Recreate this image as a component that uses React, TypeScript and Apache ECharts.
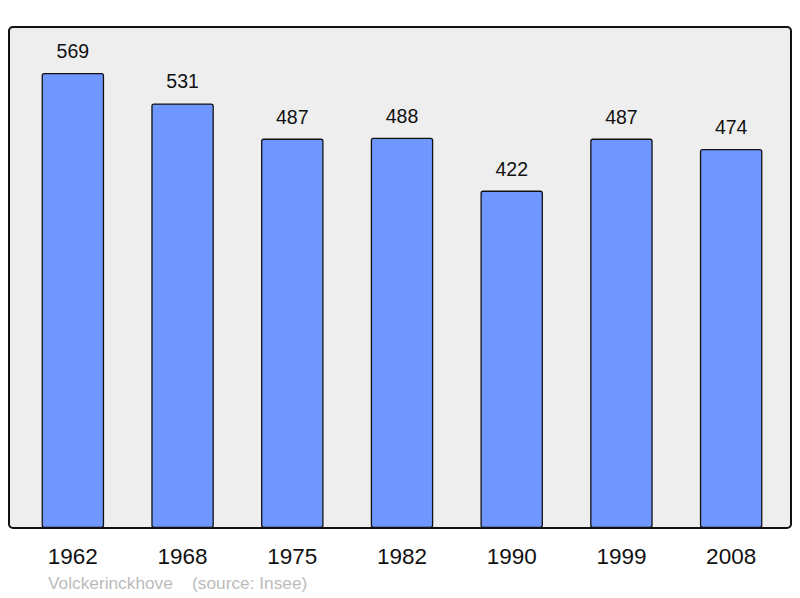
import React, { useEffect, useRef } from "react";
import * as echarts from "echarts";

const categories = ["1962", "1968", "1975", "1982", "1990", "1999", "2008"];
const values = [569, 531, 487, 488, 422, 487, 474];

export default function App() {
  const ref = useRef<HTMLDivElement>(null);
  useEffect(() => {
    const chart = echarts.init(ref.current!, null, { renderer: "svg" });
    chart.setOption({
      animation: false,
      textStyle: { fontFamily: "Liberation Sans, Arial, sans-serif" },
      graphic: [
        {
          type: "rect",
          z: -10,
          shape: { x: 9, y: 27, width: 782, height: 501, r: 4 },
          style: { fill: "#eeeeee", stroke: "#111111", lineWidth: 2 },
        },
        {
          type: "text",
          left: 48,
          top: 574,
          style: {
            text: "Volckerinckhove    (source: Insee)",
            fill: "#bbbbbb",
            font: "17.3px Liberation Sans, Arial, sans-serif",
          },
        },
      ],
      grid: { left: 18, right: 14, top: 27, bottom: 70, containLabel: false },
      xAxis: {
        type: "category",
        data: categories,
        axisLine: { show: false },
        axisTick: { show: false },
        axisLabel: { fontSize: 22.5, color: "#111", margin: 17 },
      },
      yAxis: {
        type: "value",
        min: 0,
        max: 626.6,
        show: false,
        splitLine: { show: false },
      },
      series: [
        {
          type: "bar",
          data: values,
          barWidth: 62.5,
          itemStyle: {
            color: "#7096ff",
            borderColor: "#111111",
            borderWidth: 1.3,
            borderRadius: 2,
          },
          label: {
            show: true,
            position: "top",
            distance: 12,
            fontSize: 19.5,
            color: "#111",
          },
        },
      ],
    });
    return () => chart.dispose();
  }, []);
  return <div ref={ref} style={{ width: 800, height: 598, position: "absolute", left: 0, top: 0 }} />;
}
